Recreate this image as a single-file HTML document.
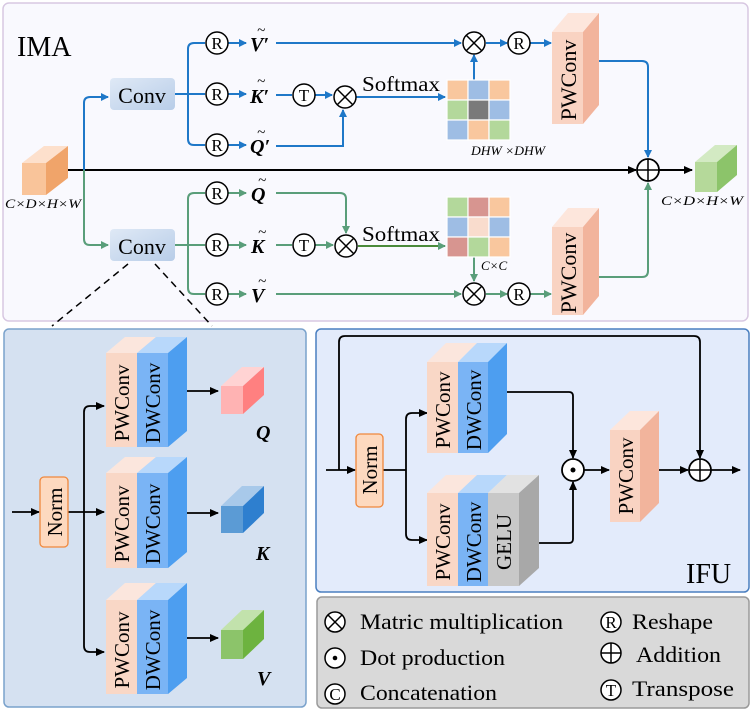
<!DOCTYPE html>
<html><head><meta charset="utf-8"><style>
html,body{margin:0;padding:0;background:#fff;}
svg{display:block;font-family:"Liberation Serif",serif;}
</style></head><body>
<svg width="752" height="720" viewBox="0 0 752 720" xmlns="http://www.w3.org/2000/svg">
<defs>
<marker id="ab" markerWidth="8" markerHeight="8" refX="7" refY="4" orient="auto" markerUnits="userSpaceOnUse"><path d="M0,0 L8,4 L0,8 Z" fill="#1f78c8"/></marker>
<marker id="ag" markerWidth="8" markerHeight="8" refX="7" refY="4" orient="auto" markerUnits="userSpaceOnUse"><path d="M0,0 L8,4 L0,8 Z" fill="#5a9e7a"/></marker>
<marker id="ak" markerWidth="9" markerHeight="8" refX="8" refY="4" orient="auto" markerUnits="userSpaceOnUse"><path d="M0,0 L9,4 L0,8 Z" fill="#000"/></marker>
<linearGradient id="cg" x1="0" y1="0" x2="1" y2="1"><stop offset="0" stop-color="#dfe9f6"/><stop offset="1" stop-color="#b8cde8"/></linearGradient>
</defs>

<rect x="3" y="3" width="745" height="318" rx="6" fill="#f9f9fe" stroke="#d8c8e2" stroke-width="1.5"/>
<rect x="4" y="329" width="302" height="378" rx="5" fill="#d5e1f1" stroke="#7aa2cc" stroke-width="1.5"/>
<rect x="316" y="329" width="433" height="263" rx="5" fill="#e3ebfb" stroke="#4a7fc0" stroke-width="1.5"/>
<rect x="317" y="597" width="432" height="111" rx="5" fill="#d9d9d9" stroke="#9a9a9a" stroke-width="1.5"/>

<text x="17" y="56" font-size="28">IMA</text>
<text x="686" y="583" font-size="28">IFU</text>

<polygon points="22,163 44,146 68,146 46,163" fill="#fde0cc"/>
<polygon points="46,163 68,146 68,178 46,195" fill="#f0a46a"/>
<rect x="22" y="163" width="24" height="32" fill="#f9c49a"/>
<text x="5" y="208" font-size="13" font-style="italic" textLength="76" lengthAdjust="spacingAndGlyphs">C×D×H×W</text>

<polygon points="695,162 715,145 737,145 717,162" fill="#d3eac3"/>
<polygon points="717,162 737,145 737,175 717,192" fill="#8cc46a"/>
<rect x="695" y="162" width="22" height="30" fill="#b5d99a"/>
<text x="661" y="205" font-size="13" font-style="italic" textLength="82" lengthAdjust="spacingAndGlyphs">C×D×H×W</text>

<line x1="68" y1="170" x2="636" y2="170" stroke="#000" stroke-width="2" marker-end="url(#ak)"/>
<circle cx="648" cy="170" r="11" fill="#fff" stroke="#000" stroke-width="1.8"/>
<line x1="637" y1="170" x2="659" y2="170" stroke="#000" stroke-width="1.5"/><line x1="648" y1="159" x2="648" y2="181" stroke="#000" stroke-width="1.5"/>
<line x1="659" y1="170" x2="692" y2="170" stroke="#000" stroke-width="2" marker-end="url(#ak)"/>

<path d="M84,170 V103 Q84,97 90,97 H108" fill="none" stroke="#1f78c8" stroke-width="2" marker-end="url(#ab)"/>
<path d="M84,170 V239 Q84,245 90,245 H108" fill="none" stroke="#5a9e7a" stroke-width="2" marker-end="url(#ag)"/>
<rect x="110" y="78" width="65" height="32" rx="4" fill="url(#cg)"/>
<text x="142" y="103" font-size="22" text-anchor="middle">Conv</text>
<rect x="110" y="229" width="65" height="32" rx="4" fill="url(#cg)"/>
<text x="142" y="254" font-size="22" text-anchor="middle">Conv</text>

<g fill="none" stroke="#1f78c8" stroke-width="2">
<path d="M175,94 H205"/>
<path d="M205,43 H194 Q188,43 188,49 V139 Q188,145 194,145 H205"/>
<line x1="228" y1="43" x2="246" y2="43" marker-end="url(#ab)"/>
<line x1="228" y1="94" x2="246" y2="94" marker-end="url(#ab)"/>
<line x1="228" y1="145" x2="246" y2="145" marker-end="url(#ab)"/>
<line x1="276" y1="43" x2="461" y2="43" marker-end="url(#ab)"/>
<line x1="276" y1="95" x2="292" y2="95"/>
<line x1="315" y1="95" x2="332" y2="95" marker-end="url(#ab)"/>
<path d="M276,146 H343 V110" marker-end="url(#ab)"/>
<line x1="356" y1="97" x2="445" y2="97" marker-end="url(#ab)"/>
<line x1="474" y1="80" x2="474" y2="55" marker-end="url(#ab)"/>
<line x1="486" y1="43" x2="507" y2="43" marker-end="url(#ab)"/>
<line x1="530" y1="43" x2="551" y2="43" marker-end="url(#ab)"/>
<path d="M599,61 H642 Q648,61 648,67 V157" marker-end="url(#ab)"/>
</g>
<g fill="none" stroke="#5a9e7a" stroke-width="2">
<path d="M175,245 H205"/>
<path d="M205,193 H194 Q188,193 188,199 V288 Q188,294 194,294 H205"/>
<line x1="228" y1="193" x2="246" y2="193" marker-end="url(#ag)"/>
<line x1="228" y1="245" x2="246" y2="245" marker-end="url(#ag)"/>
<line x1="228" y1="294" x2="246" y2="294" marker-end="url(#ag)"/>
<path d="M276,193 H340 Q346,193 346,199 V233" marker-end="url(#ag)"/>
<line x1="276" y1="245" x2="292" y2="245"/>
<line x1="315" y1="245" x2="333" y2="245" marker-end="url(#ag)"/>
<line x1="358" y1="246" x2="445" y2="246" stroke="#4a8a3a" marker-end="url(#ag)"/>
<line x1="276" y1="294" x2="461" y2="294" marker-end="url(#ag)"/>
<line x1="474" y1="256" x2="474" y2="281" marker-end="url(#ag)"/>
<line x1="486" y1="294" x2="507" y2="294" marker-end="url(#ag)"/>
<line x1="530" y1="294" x2="551" y2="294" marker-end="url(#ag)"/>
<path d="M599,277 H642 Q648,277 648,271 V183" marker-end="url(#ag)"/>
</g>

<g fill="#fff" stroke="#000" stroke-width="1.5">
<circle cx="217" cy="43" r="11"/><circle cx="217" cy="94" r="11"/><circle cx="217" cy="145" r="11"/>
<circle cx="217" cy="193" r="11"/><circle cx="217" cy="245" r="11"/><circle cx="217" cy="294" r="11"/>
<circle cx="304" cy="95" r="11"/><circle cx="304" cy="245" r="11"/>
<circle cx="519" cy="43" r="11"/><circle cx="519" cy="294" r="11"/>
<circle cx="345" cy="97" r="11"/><circle cx="346" cy="246" r="11"/>
<circle cx="474" cy="43" r="11"/><circle cx="474" cy="294" r="11"/>
</g>
<g stroke="#000" stroke-width="1.5">
<path d="M337,89 L353,105 M353,89 L337,105"/>
<path d="M338,238 L354,254 M354,238 L338,254"/>
<path d="M466,35 L482,51 M482,35 L466,51"/>
<path d="M466,286 L482,302 M482,286 L466,302"/>
</g>
<g font-size="17" text-anchor="middle">
<text x="217" y="49">R</text><text x="217" y="100">R</text><text x="217" y="151">R</text>
<text x="217" y="199">R</text><text x="217" y="251">R</text><text x="217" y="300">R</text>
<text x="519" y="49">R</text><text x="519" y="300">R</text>
<text x="304" y="101">T</text><text x="304" y="251">T</text>
</g>
<g font-size="20" font-style="italic" font-weight="bold">
<text x="250" y="51">V′</text><text x="250" y="103">K′</text><text x="250" y="153">Q′</text>
<text x="251" y="201">Q</text><text x="251" y="253">K</text><text x="251" y="302">V</text>
</g>
<g font-size="15" font-style="italic">
<text x="257" y="35">~</text><text x="257" y="86">~</text><text x="257" y="137">~</text>
<text x="258" y="185">~</text><text x="258" y="237">~</text><text x="258" y="286">~</text>
</g>

<text x="362" y="91" font-size="21" textLength="78" lengthAdjust="spacingAndGlyphs">Softmax</text>
<text x="362" y="241" font-size="21" textLength="78" lengthAdjust="spacingAndGlyphs">Softmax</text>

<g stroke="#fff" stroke-width="1.2">
<rect x="447" y="80" width="21" height="20" fill="#f9c79e"/><rect x="468" y="80" width="21" height="20" fill="#9ebde4"/><rect x="489" y="80" width="21" height="20" fill="#f9c79e"/>
<rect x="447" y="100" width="21" height="20" fill="#b3d89b"/><rect x="468" y="100" width="21" height="20" fill="#7a7a7a"/><rect x="489" y="100" width="21" height="20" fill="#9ebde4"/>
<rect x="447" y="120" width="21" height="20" fill="#9ebde4"/><rect x="468" y="120" width="21" height="20" fill="#f9c79e"/><rect x="489" y="120" width="21" height="20" fill="#b3d89b"/>
<rect x="447" y="197" width="21" height="20" fill="#b3d89b"/><rect x="468" y="197" width="21" height="20" fill="#d79590"/><rect x="489" y="197" width="21" height="20" fill="#f9c79e"/>
<rect x="447" y="217" width="21" height="20" fill="#9ebde4"/><rect x="468" y="217" width="21" height="20" fill="#f9dccd"/><rect x="489" y="217" width="21" height="20" fill="#9ebde4"/>
<rect x="447" y="237" width="21" height="20" fill="#d79590"/><rect x="468" y="237" width="21" height="20" fill="#b3d89b"/><rect x="489" y="237" width="21" height="20" fill="#f9c79e"/>
</g>
<text x="471" y="155" font-size="13" font-style="italic" textLength="74" lengthAdjust="spacingAndGlyphs">DHW ×DHW</text>
<text x="481" y="270" font-size="13" font-style="italic">C×C</text>

<polygon points="552,32 568,13 599,13 583,32" fill="#fde6dc"/>
<polygon points="583,32 599,13 599,105 583,124" fill="#f2b49c"/>
<rect x="552" y="32" width="31" height="92" fill="#f9d3c2"/>
<text transform="translate(576,80) rotate(-90)" font-size="22" text-anchor="middle">PWConv</text>
<polygon points="552,227 568,208 599,208 583,227" fill="#fde6dc"/>
<polygon points="583,227 599,208 599,296 583,315" fill="#f2b49c"/>
<rect x="552" y="227" width="31" height="88" fill="#f9d3c2"/>
<text transform="translate(576,273) rotate(-90)" font-size="22" text-anchor="middle">PWConv</text>

<line x1="128" y1="264" x2="52" y2="326" stroke="#000" stroke-width="1.5" stroke-dasharray="7,5"/>
<line x1="155" y1="264" x2="212" y2="326" stroke="#000" stroke-width="1.5" stroke-dasharray="7,5"/>

<g fill="none" stroke="#000" stroke-width="1.8">
<line x1="12" y1="512" x2="39" y2="512" marker-end="url(#ak)"/>
<line x1="68" y1="512" x2="104" y2="512" marker-end="url(#ak)"/>
<path d="M84,512 V412 Q84,406 90,406 H104" marker-end="url(#ak)"/>
<path d="M84,512 V646 Q84,652 90,652 H104" marker-end="url(#ak)"/>
<line x1="187" y1="391" x2="218" y2="391" marker-end="url(#ak)"/>
<line x1="187" y1="513" x2="218" y2="513" marker-end="url(#ak)"/>
<line x1="187" y1="638" x2="218" y2="638" marker-end="url(#ak)"/>
</g>
<rect x="40" y="477" width="28" height="70" rx="4" fill="#fdd9bf" stroke="#f0883c" stroke-width="1.3"/>
<text transform="translate(62,512) rotate(-90)" font-size="21" text-anchor="middle">Norm</text>

<g>
<polygon points="106,353 125,337 156,337 137,353" fill="#fbe6dd"/>
<polygon points="137,353 156,337 187,337 168,353" fill="#b8d8fb"/>
<polygon points="168,353 187,337 187,431 168,447" fill="#4d9ef0"/>
<rect x="106" y="353" width="31" height="94" fill="#f9d7c6"/><rect x="137" y="353" width="31" height="94" fill="#7ab4f5"/>
<text transform="translate(129,403) rotate(-90)" font-size="21" text-anchor="middle">PWConv</text>
<text transform="translate(160,403) rotate(-90)" font-size="21" text-anchor="middle">DWConv</text>

<polygon points="106,473 125,457 156,457 137,473" fill="#fbe6dd"/>
<polygon points="137,473 156,457 187,457 168,473" fill="#b8d8fb"/>
<polygon points="168,473 187,457 187,552 168,568" fill="#4d9ef0"/>
<rect x="106" y="473" width="31" height="95" fill="#f9d7c6"/><rect x="137" y="473" width="31" height="95" fill="#7ab4f5"/>
<text transform="translate(129,524) rotate(-90)" font-size="21" text-anchor="middle">PWConv</text>
<text transform="translate(160,524) rotate(-90)" font-size="21" text-anchor="middle">DWConv</text>

<polygon points="106,600 125,583 156,583 137,600" fill="#fbe6dd"/>
<polygon points="137,600 156,583 187,583 168,600" fill="#b8d8fb"/>
<polygon points="168,600 187,583 187,678 168,694" fill="#4d9ef0"/>
<rect x="106" y="600" width="31" height="94" fill="#f9d7c6"/><rect x="137" y="600" width="31" height="94" fill="#7ab4f5"/>
<text transform="translate(129,650) rotate(-90)" font-size="21" text-anchor="middle">PWConv</text>
<text transform="translate(160,650) rotate(-90)" font-size="21" text-anchor="middle">DWConv</text>
</g>
<polygon points="221,386 242,367 264,367 243,386" fill="#ffd3d3"/>
<polygon points="243,386 264,367 264,395 243,414" fill="#ff8080"/>
<rect x="221" y="386" width="22" height="28" fill="#ffb3b3"/>
<polygon points="221,506 242,486 264,486 243,506" fill="#a8c9ea"/>
<polygon points="243,506 264,486 264,513 243,533" fill="#2e7fcf"/>
<rect x="221" y="506" width="22" height="27" fill="#5b9bd5"/>
<polygon points="221,630 242,610 264,610 243,630" fill="#c2e2ac"/>
<polygon points="243,630 264,610 264,639 243,659" fill="#6db33f"/>
<rect x="221" y="630" width="22" height="29" fill="#8cc46a"/>
<g font-size="20" font-style="italic" font-weight="bold">
<text x="256" y="439">Q</text><text x="256" y="560">K</text><text x="257" y="685">V</text>
</g>

<g fill="none" stroke="#000" stroke-width="1.8">
<line x1="326" y1="470" x2="355" y2="470" marker-end="url(#ak)"/>
<path d="M339,470 V342 Q339,336 345,336 H694 Q700,336 700,342 V458" marker-end="url(#ak)"/>
<line x1="383" y1="470" x2="406" y2="470"/>
<path d="M406,470 V419 Q406,413 412,413 H427" marker-end="url(#ak)"/>
<path d="M406,470 V534 Q406,540 412,540 H427" marker-end="url(#ak)"/>
<path d="M507,392 H569 Q573,392 573,396 V458" marker-end="url(#ak)"/>
<path d="M539,543 H569 Q573,543 573,539 V482" marker-end="url(#ak)"/>
<line x1="584" y1="470" x2="609" y2="470" marker-end="url(#ak)"/>
<line x1="659" y1="470" x2="688" y2="470" marker-end="url(#ak)"/>
<line x1="711" y1="470" x2="740" y2="470" marker-end="url(#ak)"/>
</g>
<rect x="356" y="434" width="27" height="73" rx="4" fill="#fdd9bf" stroke="#f0883c" stroke-width="1.3"/>
<text transform="translate(377,470) rotate(-90)" font-size="21" text-anchor="middle">Norm</text>

<polygon points="427,362 446,343 477,343 458,362" fill="#fbe6dd"/>
<polygon points="458,362 477,343 507,343 488,362" fill="#b8d8fb"/>
<polygon points="488,362 507,343 507,434 488,453" fill="#4d9ef0"/>
<rect x="427" y="362" width="31" height="91" fill="#f9d7c6"/><rect x="458" y="362" width="30" height="91" fill="#7ab4f5"/>
<text transform="translate(450,410) rotate(-90)" font-size="21" text-anchor="middle">PWConv</text>
<text transform="translate(481,410) rotate(-90)" font-size="21" text-anchor="middle">DWConv</text>

<polygon points="427,493 446,475 477,475 458,493" fill="#fbe6dd"/>
<polygon points="458,493 477,475 507,475 488,493" fill="#b8d8fb"/>
<polygon points="488,493 507,475 539,475 519,493" fill="#e2e2e2"/>
<polygon points="519,493 539,475 539,568 519,586" fill="#a8a8a8"/>
<rect x="427" y="493" width="31" height="93" fill="#f9d7c6"/><rect x="458" y="493" width="30" height="93" fill="#7ab4f5"/><rect x="488" y="493" width="31" height="93" fill="#c8c8c8"/>
<text transform="translate(450,542) rotate(-90)" font-size="21" text-anchor="middle">PWConv</text>
<text transform="translate(481,542) rotate(-90)" font-size="21" text-anchor="middle">DWConv</text>
<text transform="translate(511,542) rotate(-90)" font-size="21" text-anchor="middle">GELU</text>

<polygon points="610,430 630,411 659,411 640,430" fill="#fde6dc"/>
<polygon points="640,430 659,411 659,503 640,522" fill="#f2b49c"/>
<rect x="610" y="430" width="30" height="92" fill="#f9d3c2"/>
<text transform="translate(633,476) rotate(-90)" font-size="21" text-anchor="middle">PWConv</text>

<circle cx="573" cy="470" r="11" fill="#fff" stroke="#000" stroke-width="1.8"/>
<circle cx="573" cy="470" r="2.5" fill="#000"/>
<circle cx="700" cy="470" r="11" fill="#fff" stroke="#000" stroke-width="1.8"/>
<path d="M689,470 H711 M700,459 V481" stroke="#000" stroke-width="1.5"/>

<g fill="#fff" stroke="#000" stroke-width="1.5">
<circle cx="335" cy="622" r="10"/><circle cx="335" cy="658" r="10"/><circle cx="335" cy="694" r="10"/>
<circle cx="611" cy="622" r="10"/><circle cx="611" cy="653" r="10"/><circle cx="611" cy="690" r="10"/>
</g>
<path d="M328,615 L342,629 M342,615 L328,629 M601,653 H621 M611,643 V663" stroke="#000" stroke-width="1.5"/>
<circle cx="335" cy="658" r="2.3" fill="#000"/>
<g font-size="17" text-anchor="middle"><text x="335" y="700">C</text><text x="611" y="628">R</text><text x="611" y="696">T</text></g>
<g font-size="22">
<text x="360" y="629" textLength="203" lengthAdjust="spacingAndGlyphs">Matric multiplication</text>
<text x="360" y="665" textLength="145" lengthAdjust="spacingAndGlyphs">Dot production</text>
<text x="360" y="700" textLength="137" lengthAdjust="spacingAndGlyphs">Concatenation</text>
<text x="632" y="629" textLength="81" lengthAdjust="spacingAndGlyphs">Reshape</text>
<text x="636" y="662" textLength="85" lengthAdjust="spacingAndGlyphs">Addition</text>
<text x="632" y="696" textLength="102" lengthAdjust="spacingAndGlyphs">Transpose</text>
</g>
</svg>
</body></html>
